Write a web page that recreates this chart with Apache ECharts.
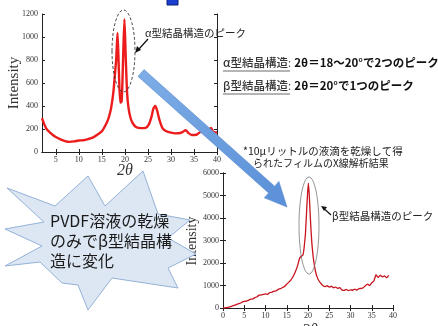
<!DOCTYPE html>
<html><head><meta charset="utf-8">
<script src="https://cdn.jsdelivr.net/npm/echarts@6/dist/echarts.min.js"></script>
<style>html,body{margin:0;padding:0;background:#fff}#c{width:438px;height:326px}</style>
</head><body><div id="c"></div>
<script>
// Top chart (alpha form) — 2θ vs Intensity
const topX = [2,2.5,3,4,5,6,7,8,9,10,11,12,13,14,15,16,16.5,17,17.5,17.8,18.1,18.4,18.7,19.0,19.3,19.6,19.9,20.2,20.5,20.8,21.2,21.7,22.5,23.5,24.5,25.2,25.8,26.2,26.6,27.0,27.5,28.2,29,30,31,32,32.6,33.2,33.8,34.5,35.5,36.5,37.5,38.2,38.7,39.2,40];
const topY = [295,240,200,160,130,110,95,88,92,100,102,112,125,150,180,250,300,380,520,660,800,1035,700,430,440,800,1155,800,500,380,300,250,215,208,210,240,310,380,400,360,280,205,180,168,162,165,175,190,165,148,150,175,170,195,210,175,170];
// Bottom chart (beta form)
const botX = [0,0.5,1,1.5,2,2.5,3,3.5,4,4.5,5,5.5,6,6.5,7,7.5,8,8.5,9,9.5,10,10.5,11,11.5,12,12.5,13,13.5,14,14.5,15,15.5,16,16.5,17,17.5,18,18.4,18.8,19.1,19.4,19.7,19.9,20.1,20.3,20.5,20.7,20.9,21.2,21.5,21.8,22.2,22.6,23,23.5,24,24.5,25,25.5,26,26.5,27,27.5,28,28.5,29,29.5,30,30.5,31,31.5,32,32.5,33,33.5,34,34.5,35,35.5,36,36.5,37,37.5,38,38.5,39];
const botY = [0,10,20,45,70,110,140,180,210,260,290,310,340,390,400,460,500,570,580,610,630,610,690,700,750,760,830,860,910,960,1060,1150,1250,1400,1600,1850,2200,2300,2350,2700,3300,4400,5100,5550,5000,4200,3500,2900,2300,1900,1600,1350,1200,1100,1000,950,990,930,970,900,930,870,910,800,780,830,770,810,790,840,800,860,870,900,990,1060,1000,1120,1200,1480,1350,1460,1380,1430,1340,1450];
const topXTickLabels = [5,10,15,20,25,30,35,40];
const topYTicks = {min:0,max:1200,interval:200};
const botYTicks = {min:0,max:6000,interval:1000};
const botXTicks = {min:0,max:40,interval:5};

const serif = "'Liberation Serif','DejaVu Serif',serif";
const jp = "'Noto Sans CJK JP','Noto Sans',sans-serif";
const lbl = {fontFamily:serif,fontSize:8,color:'#333',formatter:v=>String(v)};
const axLine = {show:true,lineStyle:{color:'#222',width:1}};
function ax(grid,opt,pos,main){
  return Object.assign({type:'value',gridIndex:grid,position:pos,
    axisLine:axLine,axisTick:{show:true,inside:true,length:3,lineStyle:{color:'#222'}},
    axisLabel:Object.assign({show:main,margin:4},lbl),splitLine:{show:false}},opt);
}
const topXOpt = {min:2,max:40};
function topXAxis(pos,main){
  const a = ax(0,topXOpt,pos,main);
  a.axisTick.customValues = topXTickLabels;
  a.axisLabel.customValues = topXTickLabels;
  return a;
}

const chart = echarts.init(document.getElementById('c'),null,{renderer:'canvas'});

const star = [[7,188],[55,206],[88,176],[105,206],[143,171],[158,214],[190,220],[168,238],[196,254],[168,268],[178,288],[112,278],[88,310],[78,285],[62,283],[40,262],[5,266],[42,246],[5,229],[44,222]];

const blueArrow = [[144,69.6],[274.6,186.2],[278.9,181.4],[287,207],[264.3,197.8],[268.6,193],[138,76.4]];

chart.setOption({
  animation:false,
  backgroundColor:'#fff',
  grid:[
    {left:42,top:14,width:175,height:138},
    {left:223,top:173,width:170,height:135}
  ],
  xAxis:[
    topXAxis('bottom',true),
    topXAxis('top',false),
    ax(1,botXTicks,'bottom',true),
    ax(1,botXTicks,'top',false)
  ],
  yAxis:[
    ax(0,topYTicks,'left',true),
    ax(0,topYTicks,'right',false),
    ax(1,botYTicks,'left',true),
    ax(1,botYTicks,'right',false)
  ],
  series:[
    {type:'line',xAxisIndex:0,yAxisIndex:0,data:topX.map((x,i)=>[x,topY[i]]),
     showSymbol:false,smooth:0.25,lineStyle:{color:'#ec1c1c',width:2.4},z:3},
    {type:'line',xAxisIndex:2,yAxisIndex:2,data:botX.map((x,i)=>[x,botY[i]]),
     showSymbol:false,smooth:0.1,lineStyle:{color:'#c8141e',width:1.3},z:3}
  ],
  graphic:[
    {type:'rect',shape:{x:167,y:-4,width:11,height:9},style:{fill:'#1a3fd0',stroke:'#0b1f70',lineWidth:1},z:50},
    // axis titles
    {type:'text',x:14,y:83,rotation:Math.PI/2,style:{text:'Intensity',font:"15px "+serif,fill:'#333',textAlign:'center',textVerticalAlign:'middle'},z:10},
    {type:'text',x:125,y:171,style:{text:'2θ',font:"italic 16px "+serif,fill:'#333',textAlign:'center',textVerticalAlign:'middle'},z:10},
    {type:'text',x:192,y:241,rotation:Math.PI/2,style:{text:'Intensity',font:"14px "+serif,fill:'#333',textAlign:'center',textVerticalAlign:'middle'},z:10},
    {type:'text',x:310,y:331,style:{text:'2θ',font:"italic 16px "+serif,fill:'#333',textAlign:'center',textVerticalAlign:'middle'},z:10},
    // ellipses
    {type:'ellipse',shape:{cx:123.5,cy:51,rx:11.5,ry:41},style:{fill:'none',stroke:'#222',lineWidth:0.8,lineDash:[3,2]},z:20},
    {type:'ellipse',shape:{cx:309,cy:225.5,rx:10,ry:48.5},style:{fill:'none',stroke:'#777',lineWidth:0.8},z:20},
    // black small arrows
    {type:'line',shape:{x1:148,y1:39,x2:139,y2:49},style:{stroke:'#111',lineWidth:1.2},z:20},
    {type:'polygon',shape:{points:[[135,53],[137,46],[141,50]]},style:{fill:'#111'},z:20},
    {type:'line',shape:{x1:331,y1:215,x2:325,y2:209.5},style:{stroke:'#111',lineWidth:1.2},z:20},
    {type:'polygon',shape:{points:[[321,206],[327,207],[324,211]]},style:{fill:'#111'},z:20},
    // annotations
    {type:'text',x:145,y:33,style:{text:'α型結晶構造のピーク',font:"10.5px "+jp,fill:'#222',textVerticalAlign:'middle'},z:20},
    {type:'text',x:332,y:216,style:{text:'β型結晶構造のピーク',font:"10.5px "+jp,fill:'#222',textVerticalAlign:'middle'},z:20},
    {type:'text',x:243,y:151,style:{text:'*10μリットルの液滴を乾燥して得',font:"10.5px "+jp,fill:'#222',textVerticalAlign:'middle'},z:20},
    {type:'text',x:253,y:163,style:{text:'られたフィルムのX線解析結果',font:"10px "+jp,fill:'#222',textVerticalAlign:'middle'},z:20},
    {type:'text',x:223,y:63,style:{text:'{a|α型結晶構造}{c|:} {b|2θ＝18～20°で2つのピーク}',textVerticalAlign:'middle',
      rich:{a:{font:"500 11.5px "+jp,fill:'#333'},c:{font:"11px "+jp,fill:'#333'},b:{font:"bold 11.5px "+jp,fill:'#111'}}},z:20},
    {type:'text',x:223,y:86,style:{text:'{a|β型結晶構造}{c|:} {b|2θ＝20°で1つのピーク}',textVerticalAlign:'middle',
      rich:{a:{font:"500 11.5px "+jp,fill:'#333'},c:{font:"11px "+jp,fill:'#333'},b:{font:"bold 11.5px "+jp,fill:'#111'}}},z:20},
    {type:'line',shape:{x1:223,y1:71,x2:290,y2:71},style:{stroke:'#444',lineWidth:0.8},z:20},
    {type:'line',shape:{x1:223,y1:94,x2:290,y2:94},style:{stroke:'#444',lineWidth:0.8},z:20},
    // blue arrow
    {type:'polygon',shape:{points:blueArrow},style:{fill:new echarts.graphic.LinearGradient(0,0,1,1,[{offset:0,color:'#7eaee6'},{offset:1,color:'#5a8fd8'}]),stroke:'#5b8bd0',lineWidth:0.6},z:30},
    // starburst
    {type:'polygon',shape:{points:star},style:{fill:'#dde7f3',stroke:'#93b2d8',lineWidth:1},z:25},
    {type:'text',x:50,y:221,style:{text:'PVDF溶液の乾燥',font:"16px "+jp,fill:'#1a1a1a',textVerticalAlign:'middle'},z:26},
    {type:'text',x:50,y:241,style:{text:'のみでβ型結晶構',font:"16px "+jp,fill:'#1a1a1a',textVerticalAlign:'middle'},z:26},
    {type:'text',x:50,y:261,style:{text:'造に変化',font:"16px "+jp,fill:'#1a1a1a',textVerticalAlign:'middle'},z:26}
  ]
});
</script></body></html>
